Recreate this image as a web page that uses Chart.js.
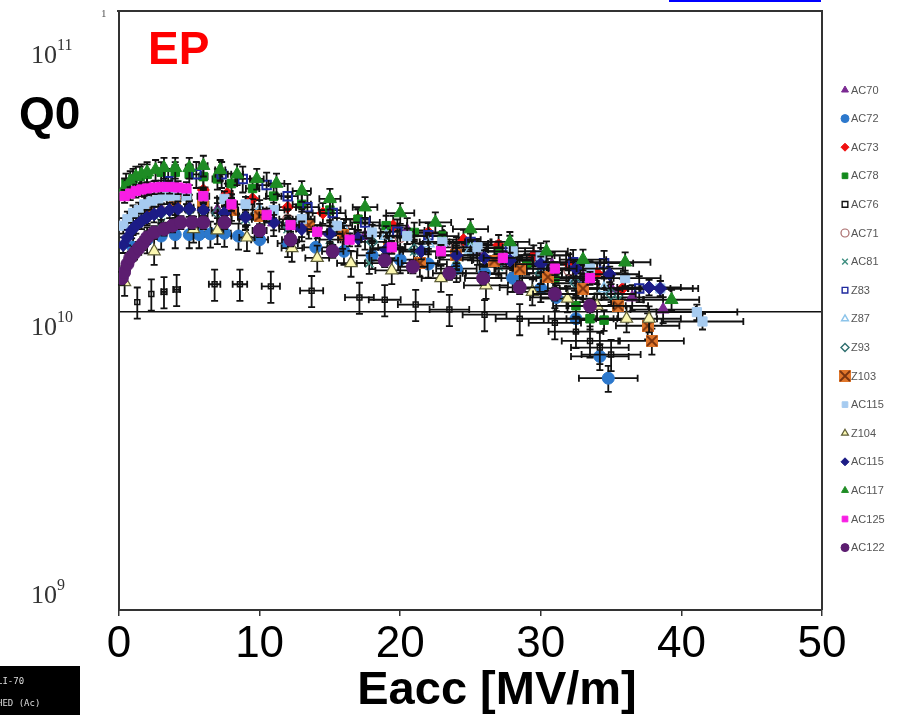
<!DOCTYPE html>
<html>
<head>
<meta charset="utf-8">
<script src="https://cdn.jsdelivr.net/npm/chart.js@4.4.0/dist/chart.umd.min.js"></script>
<style>
  html, body { margin: 0; padding: 0; background: #fff; }
  #wrap { position: relative; width: 914px; height: 715px; }
</style>
</head>
<body>
<div id="wrap"><canvas id="q0-chart" width="914" height="715"></canvas></div>
<script>
// Axis ticks
const eaccTicks = [0, 10, 20, 30, 40, 50];
const q0Decades = [1e9, 1e10, 1e11];

// Eacc in MV/m, Q0 in units of 1e10
const eaccAC70 = [3.0, 5.0, 7.0, 9.0, 11.0, 13.0, 15.0, 17.5, 20.5, 23.0, 25.5, 28.0, 30.8, 33.0, 35.0, 36.5, 38.7];
const q0AC70 = [2.20, 2.25, 2.20, 2.10, 2.00, 1.92, 1.85, 1.80, 1.88, 1.70, 1.60, 1.50, 1.44, 1.30, 1.20, 1.12, 1.02];

const eaccAC72 = [1.0, 2.0, 3.0, 4.0, 5.0, 5.7, 6.5, 7.5, 8.5, 10.0, 12.0, 14.0, 16.0, 18.0, 20.0, 22.0, 24.0, 26.0, 28.0, 30.0, 31.1, 32.5, 34.2, 34.8];
const q0AC72 = [1.65, 1.75, 1.80, 1.82, 1.82, 1.82, 1.83, 1.84, 1.80, 1.75, 1.70, 1.65, 1.60, 1.55, 1.50, 1.45, 1.40, 1.35, 1.30, 1.20, 1.12, 0.95, 0.71, 0.60];

const eaccAC73 = [2.0, 4.0, 6.0, 7.7, 9.5, 12.0, 14.5, 17.0, 19.5, 22.0, 24.5, 27.0, 29.5, 32.0, 34.0, 35.8];
const q0AC73 = [2.30, 2.45, 2.57, 2.50, 2.40, 2.25, 2.15, 2.05, 1.95, 1.85, 1.75, 1.68, 1.55, 1.45, 1.35, 1.20];

const eaccAC78 = [0.5, 1.0, 1.5, 2.0, 3.0, 4.0, 5.0, 6.0, 7.0, 8.0, 9.5, 11.0, 13.0, 15.0, 17.0, 19.0, 21.0, 23.0, 25.0, 27.0, 29.0, 31.0, 32.5, 33.5, 34.5];
const q0AC78 = [2.70, 2.80, 2.85, 2.90, 2.95, 2.95, 2.90, 2.85, 2.80, 2.70, 2.60, 2.45, 2.30, 2.20, 2.05, 1.95, 1.85, 1.80, 1.70, 1.60, 1.45, 1.30, 1.05, 0.95, 0.94];

const eaccAC76 = [1.3, 2.3, 3.2, 4.1, 6.8, 8.6, 10.8, 13.7, 17.1, 18.9, 21.1, 23.5, 26.0, 28.5, 31.0, 32.5, 33.5, 34.2, 35.0];
const q0AC76 = [1.08, 1.15, 1.17, 1.19, 1.24, 1.24, 1.22, 1.18, 1.12, 1.10, 1.06, 1.02, 0.98, 0.95, 0.92, 0.86, 0.80, 0.76, 0.72];

const eaccAC71 = [4.0, 8.0, 12.0, 16.0, 20.0, 24.0, 28.0, 32.0];
const q0AC71 = [2.30, 2.20, 2.05, 1.90, 1.78, 1.65, 1.52, 1.38];

const eaccAC81 = [3.0, 6.0, 9.0, 12.0, 15.0, 17.8, 21.0, 24.0, 27.0, 30.0, 33.0, 35.5];
const q0AC81 = [2.00, 2.10, 2.05, 1.90, 1.75, 1.46, 1.60, 1.50, 1.42, 1.35, 1.20, 1.10];

const eaccZ83 = [3.5, 5.5, 7.3, 8.8, 10.5, 12.0, 13.4, 15.2, 17.5, 19.8, 22.0, 25.0, 27.8, 30.0, 32.3, 34.5, 37.0];
const q0Z83 = [2.75, 2.90, 2.90, 2.80, 2.67, 2.45, 2.25, 2.15, 2.00, 1.86, 1.81, 1.72, 1.64, 1.55, 1.47, 1.46, 1.20];

const eaccZ87 = [2.0, 4.0, 6.0, 8.0, 10.0, 13.0, 16.0, 19.0, 22.0, 25.0, 28.0, 30.5, 32.4, 34.5];
const q0Z87 = [2.20, 2.30, 2.35, 2.30, 2.20, 2.05, 1.90, 1.80, 1.70, 1.62, 1.50, 1.40, 1.28, 1.20];

const eaccZ93 = [1.0, 3.0, 5.0, 7.0, 9.0, 12.0, 15.0, 18.0, 21.0, 24.0, 27.0, 30.0, 32.5, 35.0];
const q0Z93 = [2.05, 2.15, 2.20, 2.15, 2.10, 1.95, 1.85, 1.72, 1.62, 1.55, 1.45, 1.35, 1.25, 1.15];

const eaccZ103 = [2.0, 4.0, 6.0, 8.0, 10.0, 13.5, 15.9, 19.2, 21.4, 24.0, 26.7, 28.5, 30.5, 33.0, 35.5, 37.6, 37.9];
const q0Z103 = [2.20, 2.30, 2.30, 2.20, 2.10, 1.96, 1.81, 1.64, 1.46, 1.55, 1.49, 1.40, 1.31, 1.20, 1.05, 0.90, 0.80];

const eaccAC115a = [0.3, 0.6, 1.0, 1.4, 1.8, 2.3, 2.8, 3.4, 4.0, 4.8, 6.0, 7.5, 9.0, 11.0, 13.0, 15.5, 18.0, 20.5, 23.0, 25.5, 28.0, 30.0, 33.5, 36.0, 38.5, 41.1, 41.5];
const q0AC115a = [1.95, 2.05, 2.15, 2.20, 2.30, 2.35, 2.40, 2.45, 2.45, 2.45, 2.45, 2.40, 2.30, 2.20, 2.05, 1.95, 1.85, 1.80, 1.72, 1.65, 1.60, 1.55, 1.40, 1.30, 1.20, 1.00, 0.93];

const eaccZ104 = [0.4, 2.5, 5.3, 7.0, 9.1, 12.3, 14.1, 16.5, 19.4, 22.9, 26.1, 29.4, 31.9, 34.0, 36.1, 37.7];
const q0Z104 = [1.26, 1.60, 1.90, 1.88, 1.78, 1.64, 1.52, 1.46, 1.38, 1.30, 1.23, 1.17, 1.11, 1.05, 0.95, 0.95];

const eaccAC115b = [0.3, 0.6, 0.9, 1.2, 1.6, 2.0, 2.5, 3.0, 3.6, 4.2, 5.0, 6.0, 7.5, 9.0, 11.0, 13.0, 15.0, 17.0, 19.0, 21.5, 24.0, 26.0, 27.8, 30.0, 32.5, 34.9, 37.7, 38.5];
const q0AC115b = [1.68, 1.78, 1.88, 1.95, 2.02, 2.08, 2.13, 2.17, 2.20, 2.22, 2.22, 2.20, 2.15, 2.08, 2.00, 1.90, 1.83, 1.77, 1.62, 1.60, 1.55, 1.52, 1.49, 1.45, 1.40, 1.34, 1.21, 1.20];

const eaccAC117 = [0.4, 0.8, 1.2, 1.6, 2.0, 2.6, 3.2, 4.0, 5.0, 6.0, 7.2, 8.4, 9.8, 11.2, 13.0, 15.0, 17.5, 20.0, 22.5, 25.0, 27.8, 30.4, 33.0, 36.0, 39.3];
const q0AC117 = [2.60, 2.75, 2.85, 2.90, 2.95, 3.00, 3.05, 3.05, 3.05, 3.10, 3.00, 2.90, 2.80, 2.70, 2.55, 2.40, 2.25, 2.15, 2.00, 1.90, 1.72, 1.60, 1.50, 1.47, 1.10];

const eaccAC125 = [0.4, 0.8, 1.2, 1.6, 2.0, 2.5, 3.0, 3.6, 4.2, 4.8, 6.0, 8.0, 10.5, 12.2, 14.1, 16.4, 19.4, 22.9, 27.3, 31.0, 33.5];
const q0AC125 = [2.45, 2.50, 2.55, 2.58, 2.60, 2.62, 2.63, 2.63, 2.62, 2.60, 2.45, 2.30, 2.12, 1.96, 1.86, 1.75, 1.65, 1.60, 1.52, 1.40, 1.30];

const eaccAC122 = [0.2, 0.36, 0.6, 0.8, 1.1, 1.4, 1.7, 2.0, 2.5, 3.2, 3.8, 4.4, 5.2, 6.0, 7.5, 10.0, 12.2, 15.2, 18.9, 20.9, 23.5, 25.9, 28.5, 31.0, 33.5];
const q0AC122 = [1.30, 1.36, 1.45, 1.52, 1.58, 1.64, 1.70, 1.78, 1.85, 1.90, 1.95, 2.00, 2.00, 2.00, 2.00, 1.88, 1.75, 1.60, 1.49, 1.42, 1.35, 1.30, 1.21, 1.15, 1.05];

// Legend labels, in legend order
const seriesLabels = ['AC70', 'AC72', 'AC73', 'AC78', 'AC76', 'AC71', 'AC81', 'Z83', 'Z87', 'Z93', 'Z103', 'AC115', 'Z104', 'AC115', 'AC117', 'AC125', 'AC122'];
const seriesEacc = [eaccAC70, eaccAC72, eaccAC73, eaccAC78, eaccAC76, eaccAC71, eaccAC81, eaccZ83, eaccZ87, eaccZ93, eaccZ103, eaccAC115a, eaccZ104, eaccAC115b, eaccAC117, eaccAC125, eaccAC122];
const seriesQ0 = [q0AC70, q0AC72, q0AC73, q0AC78, q0AC76, q0AC71, q0AC81, q0Z83, q0Z87, q0Z93, q0Z103, q0AC115a, q0Z104, q0AC115b, q0AC117, q0AC125, q0AC122];

// Relative error bar half-widths per series (Q0, Eacc)
const q0ErrFrac = [0.10, 0.10, 0.08, 0.08, 0.12, 0.08, 0.08, 0.10, 0.08, 0.08, 0.10, 0.06, 0.10, 0.06, 0.08, 0.05, 0.05];
const eaccErrFrac = [0.06, 0.06, 0.05, 0.05, 0.06, 0.05, 0.05, 0.06, 0.05, 0.05, 0.06, 0.07, 0.06, 0.06, 0.05, 0.05, 0.05];

// Orange square with a brown cross for Z103
function crossBox() {
    const c = document.createElement('canvas');
    c.width = 12; c.height = 12;
    const g = c.getContext('2d');
    g.fillStyle = '#E0762A';
    g.fillRect(0, 0, 12, 12);
    g.strokeStyle = '#7A3410';
    g.lineWidth = 1.8;
    g.beginPath();
    g.moveTo(1, 1); g.lineTo(11, 11);
    g.moveTo(11, 1); g.lineTo(1, 11);
    g.stroke();
    return c;
}

// Marker styles, same order as labels
const markerStyles = [
    { pointStyle: 'triangle', backgroundColor: '#7B2A92', borderColor: '#7B2A92', radius: 7, borderWidth: 1 },
    { pointStyle: 'circle', backgroundColor: '#2C78CC', borderColor: '#2C78CC', radius: 6, borderWidth: 1 },
    { pointStyle: 'rectRot', backgroundColor: '#F01010', borderColor: '#F01010', radius: 6, borderWidth: 1 },
    { pointStyle: 'rect', backgroundColor: '#138A1C', borderColor: '#138A1C', radius: 6, borderWidth: 1 },
    { pointStyle: 'rect', backgroundColor: 'rgba(255,255,255,0)', borderColor: '#111', radius: 3.5, borderWidth: 1.5 },
    { pointStyle: 'circle', backgroundColor: 'rgba(255,255,255,0)', borderColor: '#A86A6A', radius: 5, borderWidth: 1.2 },
    { pointStyle: 'crossRot', backgroundColor: '#3E8E80', borderColor: '#3E8E80', radius: 6, borderWidth: 1.5 },
    { pointStyle: 'rect', backgroundColor: 'rgba(255,255,255,0)', borderColor: '#1F2A9E', radius: 6, borderWidth: 2 },
    { pointStyle: 'triangle', backgroundColor: 'rgba(255,255,255,0)', borderColor: '#8CC4EA', radius: 6.5, borderWidth: 1.5 },
    { pointStyle: 'rectRot', backgroundColor: 'rgba(255,255,255,0)', borderColor: '#2E6E6E', radius: 5.5, borderWidth: 1.5 },
    { pointStyle: crossBox(), backgroundColor: '#E0762A', borderColor: '#7A3410', radius: 6, borderWidth: 1 },
    { pointStyle: 'rect', backgroundColor: '#A6CBF0', borderColor: '#A6CBF0', radius: 6.5, borderWidth: 1 },
    { pointStyle: 'triangle', backgroundColor: '#FBF7B0', borderColor: '#5E5E38', radius: 7, borderWidth: 1.2 },
    { pointStyle: 'rectRot', backgroundColor: '#1C1C86', borderColor: '#1C1C86', radius: 6.5, borderWidth: 1 },
    { pointStyle: 'triangle', backgroundColor: '#1E8C24', borderColor: '#1E8C24', radius: 7.5, borderWidth: 1 },
    { pointStyle: 'rect', backgroundColor: '#F81EE4', borderColor: '#F81EE4', radius: 6.5, borderWidth: 1 },
    { pointStyle: 'circle', backgroundColor: '#5C1D70', borderColor: '#5C1D70', radius: 6.5, borderWidth: 1 }
];

// later series are painted over earlier ones, as in the source spreadsheet
const datasets = seriesLabels.map((label, i) => ({
    label: label,
    data: seriesEacc[i].map((e, k) => ({ x: e, y: seriesQ0[i][k] * 1e10 })),
    errY: q0ErrFrac[i],
    errX: eaccErrFrac[i],
    order: seriesLabels.length - i,
    pointStyle: markerStyles[i].pointStyle,
    backgroundColor: markerStyles[i].backgroundColor,
    borderColor: markerStyles[i].borderColor,
    pointRadius: markerStyles[i].radius,
    pointBorderWidth: markerStyles[i].borderWidth,
    showLine: false
}));

// Black error bars with caps, drawn just before each series' markers
const errorBars = {
    id: 'errorBars',
    beforeDatasetDraw(chart, args) {
        const ds = chart.data.datasets[args.index];
        const { ctx } = chart;
        const xs = chart.scales.x, ys = chart.scales.y;
        const cap = 3.5;
        ctx.save();
        ctx.strokeStyle = '#111';
        ctx.lineWidth = 1.8;
        ctx.beginPath();
        ds.data.forEach(p => {
            const px = xs.getPixelForValue(p.x);
            const py = ys.getPixelForValue(p.y);
            const top = ys.getPixelForValue(p.y * (1 + ds.errY));
            const bot = ys.getPixelForValue(p.y * (1 - ds.errY));
            ctx.moveTo(px, top); ctx.lineTo(px, bot);
            ctx.moveTo(px - cap, top); ctx.lineTo(px + cap, top);
            ctx.moveTo(px - cap, bot); ctx.lineTo(px + cap, bot);
            const l = xs.getPixelForValue(p.x * (1 - ds.errX));
            const r = xs.getPixelForValue(p.x * (1 + ds.errX));
            if (r - l > 4) {
                ctx.moveTo(l, py); ctx.lineTo(r, py);
                ctx.moveTo(l, py - cap); ctx.lineTo(l, py + cap);
                ctx.moveTo(r, py - cap); ctx.lineTo(r, py + cap);
            }
        });
        ctx.stroke();
        ctx.restore();
    }
};

// Frame, decade labels, titles, legend and the stray page bits
const decorations = {
    id: 'decorations',
    afterDraw(chart) {
        const { ctx, chartArea: a } = chart;
        const ys = chart.scales.y;
        ctx.save();

        // top and right frame lines
        ctx.strokeStyle = '#333';
        ctx.lineWidth = 2;
        ctx.beginPath();
        ctx.moveTo(a.left - 2, a.top); ctx.lineTo(a.right, a.top); ctx.lineTo(a.right, a.bottom);
        ctx.stroke();

        // decade labels (offset from their ticks as in the source figure)
        const labelShift = [-7, 23, 49];
        const exps = ['9', '10', '11'];
        q0Decades.forEach((v, i) => {
            const base = ys.getPixelForValue(v) + labelShift[i];
            ctx.fillStyle = '#333';
            ctx.textBaseline = 'alphabetic';
            ctx.textAlign = 'left';
            ctx.font = '26px "Liberation Serif", "Times New Roman", serif';
            ctx.fillText('10', 31, base);
            ctx.font = '16px "Liberation Serif", "Times New Roman", serif';
            ctx.fillText(exps[i], 57, base - 13);
        });
        ctx.font = '11px "Liberation Serif", serif';
        ctx.fillStyle = '#555';
        ctx.fillText('1', 101, 17);

        // axis titles and label
        ctx.fillStyle = '#000';
        ctx.font = 'bold 46px Arial, "Liberation Sans", sans-serif';
        ctx.textAlign = 'left';
        ctx.fillText('Q0', 19, 129);
        ctx.fillStyle = '#FF0000';
        ctx.fillText('EP', 148, 64);
        ctx.fillStyle = '#000';
        ctx.font = 'bold 47px Arial, "Liberation Sans", sans-serif';
        ctx.textAlign = 'center';
        ctx.fillText('Eacc [MV/m]', 497, 704);

        // legend
        ctx.textAlign = 'left';
        ctx.textBaseline = 'middle';
        ctx.font = '11px Arial, "Liberation Sans", sans-serif';
        chart.data.datasets.forEach((ds, i) => {
            const ly = 90 + i * 28.6;
            ctx.fillStyle = ds.backgroundColor;
            ctx.strokeStyle = ds.borderColor;
            ctx.lineWidth = Math.min(ds.pointBorderWidth, 1.4);
            Chart.helpers.drawPoint(ctx, {
                pointStyle: ds.pointStyle,
                radius: 4,
                borderWidth: ds.pointBorderWidth,
                rotation: 0
            }, 845, ly);
            ctx.fillStyle = '#555';
            ctx.fillText(ds.label, 851, ly + 0.5);
        });

        // blue link underline at the top and dark tag at bottom left
        ctx.fillStyle = '#0000FF';
        ctx.fillRect(669, 0, 152, 2);
        ctx.fillStyle = '#000';
        ctx.fillRect(0, 666, 80, 49);
        ctx.fillStyle = '#ddd';
        ctx.font = '9px "DejaVu Sans Mono", monospace';
        ctx.textBaseline = 'middle';
        ctx.fillText('LI-70', -3, 682);
        ctx.fillText('HED (Ac)', -3, 704);
        ctx.restore();
    }
};

const ctx = document.getElementById('q0-chart').getContext('2d');
new Chart(ctx, {
    type: 'scatter',
    data: { datasets: datasets },
    options: {
        responsive: false,
        animation: false,
        layout: { padding: { top: 11, right: 92, left: 0, bottom: 0 } },
        plugins: {
            legend: { display: false },
            tooltip: { enabled: false }
        },
        scales: {
            x: {
                type: 'linear',
                min: eaccTicks[0],
                max: eaccTicks[eaccTicks.length - 1],
                afterBuildTicks: s => { s.ticks = eaccTicks.map(v => ({ value: v })); },
                ticks: {
                    color: '#000',
                    padding: 2,
                    font: { family: 'Arial, "Liberation Sans", sans-serif', size: 44 }
                },
                grid: { drawOnChartArea: false, drawTicks: true, tickLength: 6, color: '#333', lineWidth: 1.5 },
                border: { display: true, color: '#333', width: 2 },
                afterFit: s => { s.height = 105; }
            },
            y: {
                type: 'logarithmic',
                min: q0Decades[0],
                max: 1.025e11,
                ticks: { display: false },
                grid: {
                    drawTicks: false,
                    lineWidth: 1.5,
                    color: c => (c.tick && Math.abs(Math.log10(c.tick.value) - 10) < 1e-6) ? '#111' : 'rgba(0,0,0,0)'
                },
                border: { display: true, color: '#333', width: 2 },
                afterFit: s => { s.width = 119; }
            }
        }
    },
    plugins: [errorBars, decorations]
});
</script>
</body>
</html>
